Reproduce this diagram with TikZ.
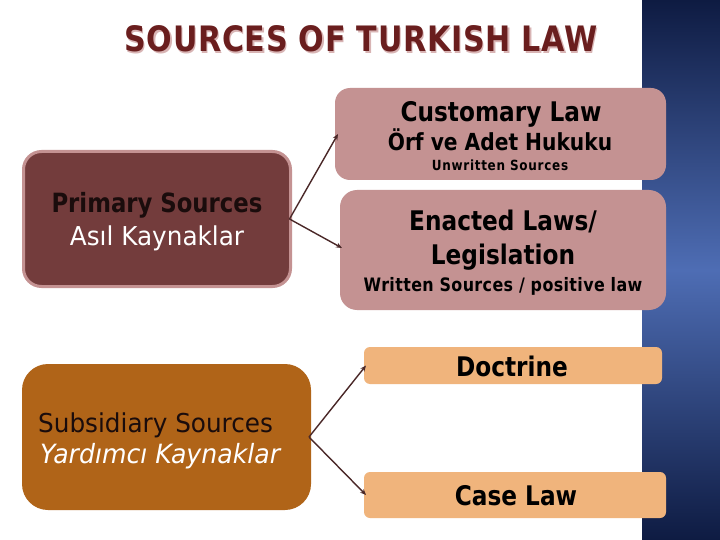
\documentclass[tikz,border=0pt]{standalone}
\usepackage{fontspec}
\setmainfont{DejaVu Sans}[FakeStretch=0.86]
\newfontfamily\regfont{DejaVu Sans}[FakeStretch=0.95]
\usetikzlibrary{arrows.meta}
\definecolor{mauve}{HTML}{C49292}
\definecolor{maroon}{HTML}{733C3C}
\definecolor{brownor}{HTML}{B06418}
\definecolor{peach}{HTML}{F0B47C}
\definecolor{titlered}{HTML}{6A1E1E}
\definecolor{titleshadow}{HTML}{D8B4B4}
\definecolor{arrowc}{HTML}{4A2828}
\definecolor{navy}{HTML}{0E1B42}
\definecolor{midblue}{HTML}{4E6DB4}
\definecolor{darktext}{HTML}{1A0C0C}
\tikzset{
  box/.style={inner sep=0pt, outer sep=0pt},
  conn/.style={draw=arrowc, line width=1.4pt, -{Stealth[length=6pt,width=5pt]}},
  txt/.style={inner sep=0pt, anchor=base},
}
\begin{document}
\begin{tikzpicture}[x=1pt,y=-1pt]
\useasboundingbox (0,0) rectangle (720,540);
\fill[white] (0,0) rectangle (720,540);
% blue side panel
\shade[top color=navy, bottom color=navy, middle color=midblue] (642,0) rectangle (720,540);
% title
\node[txt, text=titleshadow] at (362.5,53.5) {\fontsize{35}{40}\selectfont\bfseries\addfontfeature{LetterSpace=2}SOURCES OF TURKISH LAW};
\node[txt, text=titlered] (title) at (361,52) {\fontsize{35}{40}\selectfont\bfseries\addfontfeature{LetterSpace=2}SOURCES OF TURKISH LAW};
% boxes
\node[box, fill=mauve, rounded corners=15pt, minimum width=331pt, minimum height=92pt] (customary) at (500.5,134) {};
\node[box, fill=mauve, rounded corners=17pt, minimum width=326pt, minimum height=120pt] (enacted) at (503,250) {};
\node[box, fill=maroon, draw=mauve, line width=3pt, rounded corners=18pt, minimum width=267pt, minimum height=135pt] (primary) at (157,219) {};
\node[box, fill=brownor, rounded corners=26pt, minimum width=289pt, minimum height=146pt] (subsidiary) at (166.5,437) {};
\node[box, fill=peach, rounded corners=6pt, minimum width=298pt, minimum height=37pt] (doctrine) at (513,365.5) {};
\node[box, fill=peach, rounded corners=6pt, minimum width=302pt, minimum height=46pt] (caselaw) at (515,495) {};
% texts
\node[txt] (t1) at (501,122) {\fontsize{27}{30}\selectfont\bfseries Customary Law};
\node[txt] (t2) at (500,151) {\fontsize{23.5}{26}\selectfont\bfseries Örf ve Adet Hukuku};
\node[txt] (t3) at (500,171) {\fontsize{14}{16}\selectfont\bfseries\addfontfeature{LetterSpace=5}Unwritten Sources};
\node[txt] (t4) at (503,230) {\fontsize{27}{30}\selectfont\bfseries Enacted Laws/};
\node[txt] (t5) at (503,264) {\fontsize{27}{30}\selectfont\bfseries Legislation};
\node[txt] (t6) at (503,291) {\fontsize{18.5}{20}\selectfont\bfseries\addfontfeature{LetterSpace=2}Written Sources / positive law};
\node[txt, text=darktext] (t7) at (157,212) {\fontsize{26.5}{28}\selectfont\bfseries Primary Sources};
\node[txt, text=white] (t8) at (157,245) {\regfont\fontsize{26}{28}\selectfont Asıl Kaynaklar};
\node[txt, text=darktext, anchor=base west] (t9) at (38,432) {\regfont\fontsize{26}{28}\selectfont Subsidiary Sources};
\node[txt, text=white, anchor=base west] (t10) at (40,463) {\regfont\fontsize{26.5}{28}\selectfont\itshape Yardımcı Kaynaklar};
\node[txt] (t11) at (512,376) {\fontsize{27}{30}\selectfont\bfseries Doctrine};
\node[txt] (t12) at (516,505) {\fontsize{27}{30}\selectfont\bfseries Case Law};
% connectors
\draw[conn] ([xshift=-1pt]primary.east) -- ([xshift=3pt]customary.west);
\draw[conn] ([xshift=-1pt]primary.east) -- ([xshift=2pt,yshift=2pt]enacted.west);
\draw[conn] ([xshift=-2pt]subsidiary.east) -- ([xshift=2pt]doctrine.west);
\draw[conn] ([xshift=-2pt]subsidiary.east) -- ([xshift=2pt]caselaw.west);
\end{tikzpicture}
\end{document}
